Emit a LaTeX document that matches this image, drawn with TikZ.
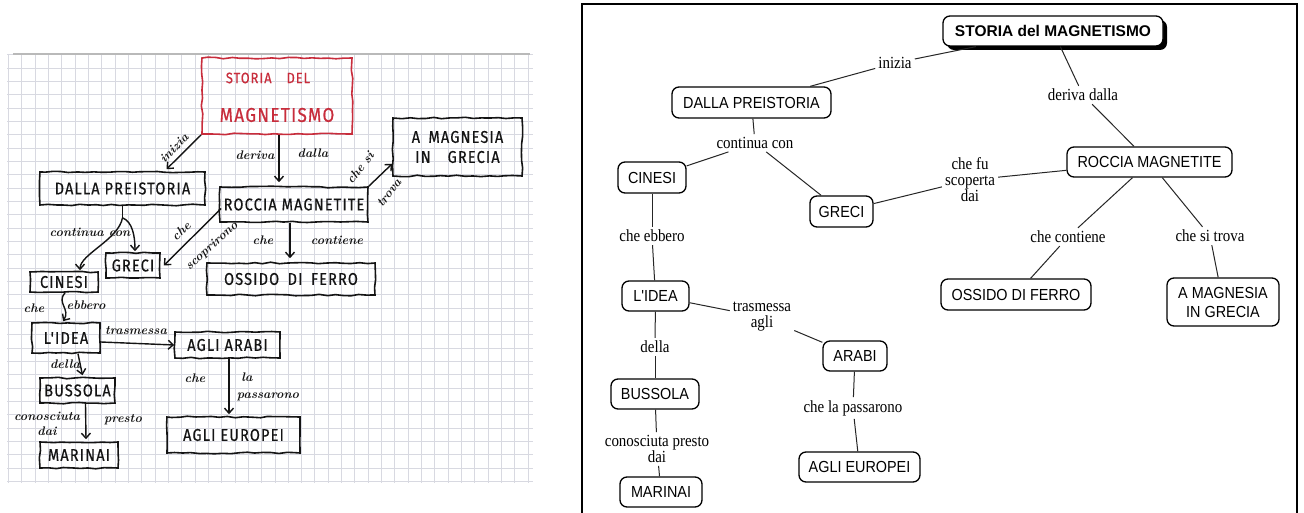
\documentclass[tikz,border=0pt]{standalone}
\usepackage{fontspec}
\usetikzlibrary{arrows.meta,decorations.pathmorphing,shadows,calc}
\newfontfamily\cmfont[FakeStretch=0.9]{Liberation Sans}
\newfontfamily\cmbold{Liberation Sans}
\newfontfamily\lkfont[FakeStretch=0.88]{Liberation Serif}
\newfontfamily\handfont[LetterSpace=7, FakeStretch=0.85, FakeBold=0.6]{Fira Sans}
\definecolor{gridc}{RGB}{216,217,225}
\definecolor{penred}{RGB}{200,45,60}
\definecolor{ink}{RGB}{20,20,20}
\begin{document}
\begin{tikzpicture}[x=1pt,y=-1pt,
  concept/.style={draw, rounded corners=7pt, line width=1.3pt, fill=white, inner sep=0pt,
    font=\cmfont\fontsize{16}{19}\selectfont, align=center},
  link/.style={inner sep=3pt, font=\lkfont\fontsize{17}{16}\selectfont, align=center},
  conn/.style={line width=1pt, black!85},
  handbox/.style={draw=ink, line width=1.6pt, decorate,
    decoration={random steps, segment length=8pt, amplitude=0.8pt},
    inner sep=0pt, font=\handfont\fontsize{17}{20}\selectfont, text=ink, align=center},
  hnote/.style={font=\bfseries\itshape\fontsize{12.5}{13}\selectfont, text=ink, inner sep=0pt},
  harrow/.style={draw=ink, line width=1.4pt, -{Straight Barb[length=5pt,width=9pt]}},
  hline/.style={draw=ink, line width=1.4pt},
  gridline/.style={draw=gridc, line width=1pt}
]
\useasboundingbox (0,0) rectangle (1304,513);
\fill[white] (0,0) rectangle (1304,513);

% ---------------- left: photo of the hand-drawn map ----------------
\begin{scope}
\clip (7,54) rectangle (533,483);
\foreach \k in {0,...,39} \draw[gridline] ({8.4+13.33*\k},54) -- ++(0,429);
\foreach \k in {0,...,32} \draw[gridline] (7,{55+13.33*\k}) -- ++(526,0);
\end{scope}
\draw[gray!55, line width=1.5pt] (13,54) -- (530,54);

\node[handbox, draw=penred, minimum width=150, minimum height=76] (lstoria) at (277,96) {};
\node[font=\handfont\fontsize{15}{16}\selectfont, text=penred, inner sep=0pt] (lstoriaA) at (268,78) {STORIA\quad DEL};
\node[font=\handfont\fontsize{20}{22}\selectfont, text=penred, inner sep=0pt] (lstoriaB) at (277,115) {MAGNETISMO};

\node[handbox, minimum width=129, minimum height=58] (lmag) at (457.5,147) {A\enspace MAGNESIA\\IN\quad GRECIA};
\node[handbox, minimum width=165, minimum height=33] (ldalla) at (122.5,188.5) {DALLA PREISTORIA};
\node[handbox, minimum width=148, minimum height=35] (lroccia) at (294,204.5) {ROCCIA MAGNETITE};
\node[handbox, minimum width=168, minimum height=32] (lossido) at (291,279) {OSSIDO\enspace DI\enspace FERRO};
\node[handbox, minimum width=54, minimum height=25] (lgreci) at (133,265.5) {GRECI};
\node[handbox, minimum width=68, minimum height=20] (lcinesi) at (64,282) {CINESI};
\node[handbox, minimum width=68, minimum height=30] (lidea) at (66,338) {L'IDEA};
\node[handbox, minimum width=105, minimum height=26] (larabi) at (227.5,345) {AGLI ARABI};
\node[handbox, minimum width=75, minimum height=25] (lbussola) at (77.5,390.5) {BUSSOLA};
\node[handbox, minimum width=133, minimum height=36] (leuropei) at (233.5,435) {AGLI EUROPEI};
\node[handbox, minimum width=78, minimum height=26] (lmarinai) at (79,455) {MARINAI};

% hand arrows
\draw[harrow] (lstoria.south west) -- ($(ldalla.north)+(44,-2)$);
\draw[harrow] ($(lstoria.south)+(2,0)$) -- ($(lroccia.north)+(-15,-4)$);
\draw[harrow] (lroccia.north east) -- ($(lmag.south west)+(0,-13)$);
\draw[harrow] ($(lroccia.west)+(2,4)$) -- ($(lgreci.east)+(3,0)$);
\draw[harrow] ($(lroccia.south)+(-4,0)$) -- ($(lossido.north)+(-1,-4)$);
\coordinate (lj) at ($(ldalla.south)+(0,12)$);
\draw[hline] (ldalla.south) -- (lj);
\draw[harrow] (lj) .. controls +(10,4) and +(0,-15) .. ($(lgreci.north)+(2,-1)$);
\draw[harrow] (lj) .. controls +(-4,22) and +(0,-16) .. ($(lcinesi.north)+(16,-1)$);
\draw[harrow] ($(lcinesi.south)+(1,0)$) .. controls +(-9,10) and +(8,-12) .. ($(lidea.north)+(-3,-1)$);
\draw[harrow] ($(lidea.east)+(0,4)$) -- (larabi.west);
\draw[harrow] ($(lidea.south)+(12,0)$) -- ($(lbussola.north)+(5,-2)$);
\draw[harrow] ($(lbussola.south)+(8,0)$) -- ($(lmarinai.north)+(7,-2)$);
\draw[harrow] ($(larabi.south)+(1.5,0)$) -- ($(leuropei.north)+(-4.5,-2)$);

% hand notes
\node[hnote, rotate=45] (n1) at (174,148) {inizia};
\node[hnote] (n2) at (255,155) {deriva};
\node[hnote] (n3) at (313,153) {dalla};
\node[hnote, rotate=52] (n4) at (360,168) {che si};
\node[hnote, rotate=52] (n5) at (389,193) {trova};
\node[hnote, rotate=42] (n6) at (181,231) {che};
\node[hnote, rotate=42] (n7) at (212,246) {scoprirono};
\node[hnote] (n8) at (263,240) {che};
\node[hnote] (n9) at (337,240) {contiene};
\node[hnote] (n10) at (90,232) {continua con};
\node[hnote] (n11) at (34,308) {che};
\node[hnote] (n12) at (86,305) {ebbero};
\node[hnote] (n13) at (136,331) {trasmessa};
\node[hnote] (n14) at (65,364) {della};
\node[hnote] (n15) at (47,416) {conosciuta};
\node[hnote] (n16) at (47,431) {dai};
\node[hnote] (n17) at (123,420) {presto};
\node[hnote] (n18) at (195,378) {che};
\node[hnote] (n19) at (247,377) {la};
\node[hnote] (n20) at (268,397) {passarono};

% ---------------- right: concept map ----------------
\draw[line width=2pt] (581.5,520) -- (581.5,4.5) -- (1297,4.5) -- (1297,520);

\node[concept, font=\cmbold\bfseries\fontsize{15.5}{18}\selectfont, minimum width=220, minimum height=30,
  drop shadow={shadow xshift=4pt, shadow yshift=-4pt, fill=black, opacity=1}] (storia) at (1053,31) {STORIA del MAGNETISMO};
\node[concept, minimum width=159, minimum height=31] (dalla) at (751.5,102.5) {DALLA PREISTORIA};
\node[concept, minimum width=68, minimum height=31] (cinesi) at (652,177.5) {CINESI};
\node[concept, minimum width=63, minimum height=31] (greci) at (841.5,211.5) {GRECI};
\node[concept, minimum width=165, minimum height=30] (roccia) at (1149.5,162) {ROCCIA MAGNETITE};
\node[concept, minimum width=67, minimum height=30] (idea) at (655.5,296) {L'IDEA};
\node[concept, minimum width=150, minimum height=31] (ossido) at (1016,294.5) {OSSIDO DI FERRO};
\node[concept, minimum width=112, minimum height=48] (magnesia) at (1223,302) {A MAGNESIA\\IN GRECIA};
\node[concept, minimum width=64, minimum height=30] (arabi) at (855,356) {ARABI};
\node[concept, minimum width=88, minimum height=30] (bussola) at (655,394) {BUSSOLA};
\node[concept, minimum width=121, minimum height=30] (europei) at (859.5,467) {AGLI EUROPEI};
\node[concept, minimum width=82, minimum height=30] (marinai) at (661,492) {MARINAI};

\node[link] (inizia) at (895,63) {inizia};
\node[link] (deriva) at (1083,95) {deriva dalla};
\node[link] (continua) at (755,143) {continua con};
\node[link] (chefu) at (970,180) {che fu\\scoperta\\dai};
\node[link] (ebbero) at (652,236) {che ebbero};
\node[link] (contiene) at (1068,237) {che contiene};
\node[link] (trova) at (1210,236) {che si trova};
\node[link] (trasmessa) at (762,317) {trasmessa\\agli};
\node[link] (della) at (655,347) {della};
\node[link] (passarono) at (853,408) {che la passarono};
\node[link] (conosciuta) at (657,449) {conosciuta presto\\dai};

\draw[conn] (storia) -- (inizia);
\draw[conn] (inizia) -- (dalla);
\draw[conn] (storia) -- (deriva);
\draw[conn] (deriva) -- (roccia);
\draw[conn] (dalla) -- (continua);
\draw[conn] (continua) -- (cinesi);
\draw[conn] (continua) -- (greci);
\draw[conn] (roccia) -- (chefu);
\draw[conn] (chefu) -- (greci);
\draw[conn] (roccia) -- (contiene);
\draw[conn] (contiene) -- (ossido);
\draw[conn] (roccia) -- (trova);
\draw[conn] (trova) -- (magnesia);
\draw[conn] (cinesi) -- (ebbero);
\draw[conn] (ebbero) -- (idea);
\draw[conn] (idea) -- (trasmessa);
\draw[conn] (trasmessa) -- (arabi);
\draw[conn] (idea) -- (della);
\draw[conn] (della) -- (bussola);
\draw[conn] (arabi) -- (passarono);
\draw[conn] (passarono) -- (europei);
\draw[conn] (bussola) -- (conosciuta);
\draw[conn] (conosciuta) -- (marinai);
\end{tikzpicture}
\end{document}
